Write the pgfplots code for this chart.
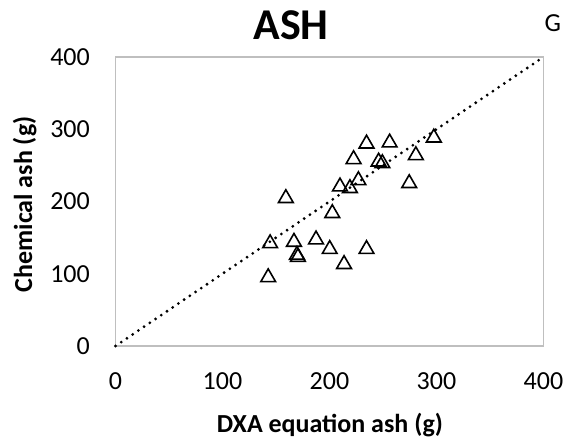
\documentclass[border=0pt]{standalone}
\usepackage{pgfplots}
\pgfplotsset{compat=1.18}
\usepackage{fontspec}
\setmainfont{Carlito}
\begin{document}
\begin{tikzpicture}[x=1pt,y=1pt]
\path[use as bounding box] (-115.5,-93) rectangle (461.5,346);
\begin{axis}[
  at={(0,0)}, anchor=south west,
  scale only axis, width=428pt, height=289pt,
  xmin=0, xmax=400, ymin=0, ymax=400,
  xtick={0,100,200,300,400}, ytick={0,100,200,300,400},
  major tick length=0pt,
  axis line style={draw=black!25, line width=1.3pt},
  /pgf/number format/assume math mode=true,
  tick label style={font=\fontsize{26}{26}\selectfont},
  xticklabel style={anchor=center, yshift=-35.5pt},
  yticklabel style={anchor=east, inner sep=0pt, xshift=-25.5pt},
  xlabel={\textbf{DXA equation ash (g)}},
  ylabel={\textbf{Chemical ash (g)}},
  label style={font=\fontsize{26}{26}\selectfont},
  xlabel style={at={(axis description cs:0.501,-0.2976)}, anchor=base, inner sep=0pt},
  ylabel style={at={(axis description cs:-0.195,0.49)}, anchor=base, inner sep=0pt},
  clip=false,
]
\addplot[black, line width=3.1pt, line cap=round, dash pattern=on 0pt off 6.9pt] coordinates {(0,0) (400,400)};
\addplot[only marks, mark=triangle, mark size=8.5pt, mark options={line width=1.6pt, fill=none, draw=black}] coordinates {
(144.5,142) (142.7,95) (159.2,204.5) (166.8,144) (169.6,126) (170.5,123)
(187.4,147.3) (200.2,134) (202.6,183.7) (213.6,113.2) (209.8,220.6) (219.1,218.3)
(222.5,258.4) (227,229.3) (234.6,280) (234.6,134) (245.9,255) (249.4,252.8)
(256.2,281.4) (274.5,225.2) (280.7,263.9) (297.5,288.3)
};
\node[font=\bfseries\fontsize{44}{44}\selectfont, inner sep=0pt] at (axis description cs:0.410,1.109) {ASH};
\node[font=\fontsize{26}{26}\selectfont, inner sep=0pt] at (axis description cs:1.022,1.116) {G};
\end{axis}
\end{tikzpicture}
\end{document}
